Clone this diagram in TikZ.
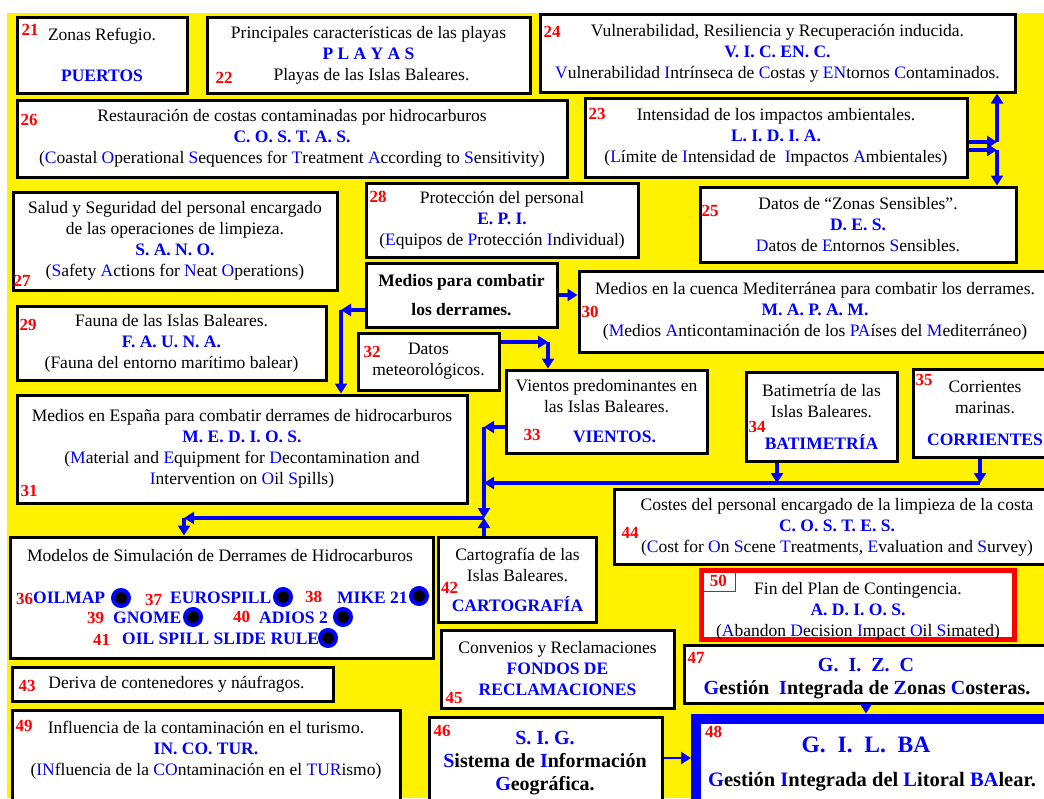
\documentclass[tikz,border=0pt]{standalone}
\usepackage{fontspec}
\setmainfont{Liberation Serif}
\usetikzlibrary{positioning,arrows.meta}
\newcommand\acr[1]{\textcolor{blue}{\bfseries #1}}
\newcommand\ini[1]{\textcolor{blue}{#1}}
\tikzset{
  box/.style={draw, line width=3pt, fill=white, align=center, inner sep=1pt,
    font=\fontsize{17.5}{21}\selectfont},
  txt/.style={align=center, inner sep=0pt, font=\fontsize{17.5}{21}\selectfont},
  num/.style={text=red, anchor=base west, inner sep=0pt, font=\bfseries\fontsize{17}{17}\selectfont},
  model/.style={anchor=base west, inner sep=0pt, text=blue, font=\bfseries\fontsize{17.5}{18}\selectfont},
  simdot/.style={circle, draw=blue, fill=black, line width=4pt, minimum size=16pt, inner sep=0pt},
  arr/.style={draw=blue, line width=3.5pt, -{Triangle[length=10pt,width=12pt]}},
}
\begin{document}
\begin{tikzpicture}[x=1pt, y=-1pt]
\useasboundingbox (0,0) rectangle (1044,798);
\fill[yellow] (7,13) rectangle (1044,798);

% fila superior
\node[box, minimum width=170pt, minimum height=76pt] (b21) at (102,55)
  {Zonas Refugio.\\[20pt]\acr{PUERTOS}};
\node[num] (n21) at ([shift={(6,20)}]b21.north west) {21};
\node[box, minimum width=323pt, minimum height=76pt] (b22) at (368.5,55)
  {Principales características de las playas\\\acr{P L A Y A S}\\\hspace*{6pt}Playas de las Islas Baleares.};
\node[num] (n22) at ([shift={(10,68)}]b22.north west) {22};
\node[box, minimum width=475pt, minimum height=78pt] (b24) at (777.5,53)
  {Vulnerabilidad, Resiliencia y Recuperación inducida.\\\acr{V. I. C. EN. C.}\\
   \ini{V}ulnerabilidad \ini{I}ntrínseca de \ini{C}ostas y \ini{EN}tornos \ini{C}ontaminados.};
\node[num] (n24) at ([shift={(5,25)}]b24.north west) {24};
\node[box, minimum width=550pt, minimum height=77pt] (b26) at (292,138.5)
  {Restauración de costas contaminadas por hidrocarburos\\\acr{C. O. S. T. A. S.}\\
   (\ini{C}oastal \ini{O}perational \ini{S}equences for \ini{T}reatment \ini{A}ccording to \ini{S}ensitivity)};
\node[num] (n26) at ([shift={(5,27)}]b26.north west) {26};
\node[box, minimum width=382pt, minimum height=79pt] (b23) at (776,137.5)
  {Intensidad de los impactos ambientales.\\\acr{L. I. D. I. A.}\\
   (\ini{L}ímite de \ini{I}ntensidad de \ \ini{I}mpactos \ini{A}mbientales)};
\node[num] (n23) at ([shift={(5,23)}]b23.north west) {23};
\node[box, minimum width=316pt, minimum height=75pt] (b25) at (858,224.5)
  {Datos de “Zonas Sensibles”.\\\acr{D. E. S.}\\\ini{D}atos de \ini{E}ntornos \ini{S}ensibles.};
\node[num] (n25) at ([shift={(3,31)}]b25.north west) {25};

% medios
\node[box, minimum width=324pt, minimum height=98pt] (b27) at (175,241)
  {Salud y Seguridad del personal encargado\\de las operaciones de limpieza.\\\acr{S. A. N. O.}\\
   (\ini{S}afety \ini{A}ctions for \ini{N}eat \ini{O}perations)};
\node[num] (n27) at ([shift={(2,96)}]b27.north west) {27};
\node[box, minimum width=272pt, minimum height=74pt] (b28) at (502,220)
  {Protección del personal\\\acr{E. P. I.}\\(\ini{E}quipos de \ini{P}rotección \ini{I}ndividual)};
\node[num] (n28) at ([shift={(5,21)}]b28.north west) {28};
\node[box, minimum width=191pt, minimum height=64pt, font=\bfseries\fontsize{17.5}{29}\selectfont]
  (bmed) at (461.5,295) {Medios para combatir\\los derrames.};
\node[box, minimum width=472pt, minimum height=81pt] (b30) at (815,311.5)
  {Medios en la cuenca Mediterránea para combatir los derrames.\\\acr{M. A. P. A. M.}\\
   (\ini{M}edios \ini{A}nticontaminación de los \ini{PA}íses del \ini{M}editerráneo)};
\node[num] (n30) at ([shift={(4,48)}]b30.north west) {30};
\node[box, minimum width=309pt, minimum height=74pt] (b29) at (171.5,343)
  {Fauna de las Islas Baleares.\\\acr{F. A. U. N. A.}\\(Fauna del entorno marítimo balear)};
\node[num] (n29) at ([shift={(4,26)}]b29.north west) {29};
\node[box, minimum width=141pt, minimum height=57pt] (b32) at (428.5,361.5)
  {Datos\\meteorológicos.};
\node[num] (n32) at ([shift={(7,26)}]b32.north west) {32};
\node[box, minimum width=201pt, minimum height=83pt] (b33) at (606.5,411.5)
  {Vientos predominantes en\\las Islas Baleares.\\[9pt]\hspace*{16pt}\acr{VIENTOS.}};
\node[num] (n33) at ([shift={(19,72)}]b33.north west) {33};
\node[box, minimum width=151pt, minimum height=89pt] (b34) at (821.5,416.5)
  {Batimetría de las\\Islas Baleares.\\[11pt]\acr{BATIMETRÍA}};
\node[num] (n34) at ([shift={(4,62)}]b34.north west) {34};
\node[box, minimum width=144pt, minimum height=88pt] (b35) at (985,413)
  {Corrientes\\marinas.\\[11pt]\acr{CORRIENTES}};
\node[num] (n35) at ([shift={(4,18)}]b35.north west) {35};
\node[box, minimum width=450pt, minimum height=108pt] (b31) at (242,449)
  {Medios en España para combatir derrames de hidrocarburos\\\acr{M. E. D. I. O. S.}\\
   (\ini{M}aterial and \ini{E}quipment for \ini{D}econtamination and\\
   \ini{I}ntervention on \ini{O}il \ini{S}pills)};
\node[num] (n31) at ([shift={(5,103)}]b31.north west) {31};
\node[box, minimum width=446pt, minimum height=75pt] (b44) at (837,527)
  {Costes del personal encargado de la limpieza de la costa\\\acr{C. O. S. T. E. S.}\\
   (\ini{C}ost for \ini{O}n \ini{S}cene \ini{T}reatments, \ini{E}valuation and \ini{S}urvey)};
\node[num] (n44) at ([shift={(9,50)}]b44.north west) {44};

% modelos de simulacion
\node[box, minimum width=423pt, minimum height=121pt] (bmod) at (221.5,597.5) {};
\node[txt] (tmod) at (220,555) {Modelos de Simulación de Derrames de Hidrocarburos};
\node[num] (n36) at (16,604) {36};
\node[model] (m36) at (33,603) {OILMAP};
\node[simdot] (d36) at (121,598) {};
\node[num] (n37) at (145,605) {37};
\node[model] (m37) at (170,603) {EUROSPILL};
\node[simdot] (d37) at (283,597) {};
\node[num] (n38) at (305,602) {38};
\node[model] (m38) at (337,603) {MIKE 21};
\node[simdot] (d38) at (419,596) {};
\node[num] (n39) at (87,623) {39};
\node[model] (m39) at (113,623) {GNOME};
\node[simdot] (d39) at (193,617) {};
\node[num] (n40) at (233,622) {40};
\node[model] (m40) at (259,623) {ADIOS 2};
\node[simdot] (d40) at (343,617) {};
\node[num] (n41) at (93,645) {41};
\node[model] (m41) at (122,644) {OIL SPILL SLIDE RULE};
\node[simdot] (d41) at (328,638) {};

\node[box, minimum width=158pt, minimum height=85pt] (b42) at (517.5,579.5)
  {Cartografía de las\\Islas Baleares.\\[9pt]\acr{CARTOGRAFÍA}};
\node[num] (n42) at ([shift={(4,58)}]b42.north west) {42};
\node[box, draw=red, line width=5pt, minimum width=313pt, minimum height=69pt] (b50) at (858,605) {};
\node[txt] (t50) at (858,611)
  {Fin del Plan de Contingencia.\\\acr{A. D. I. O. S.}\\
   (\ini{A}bandon \ini{D}ecision \ini{I}mpact \ini{O}il \ini{S}imated)};
\node[num, draw=red, line width=0.8pt, anchor=north west, minimum width=34pt, minimum height=21pt]
  (n50) at ([shift={(2,2)}]b50.north west) {50};

% fila inferior
\node[box, minimum width=233pt, minimum height=78pt] (b45) at (557.5,669)
  {Convenios y Reclamaciones\\\acr{FONDOS DE}\\\acr{RECLAMACIONES}};
\node[num] (n45) at ([shift={(6,75)}]b45.north west) {45};
\node[box, minimum width=370pt, minimum height=58pt] (b47) at (869,674) {};
\node[txt, font=\bfseries\fontsize{20}{20}\selectfont, text=blue] (t47a) at (866,665) {G. \ I. \ Z. \ C};
\node[txt, font=\bfseries\fontsize{20}{20}\selectfont] (t47b) at (867,690)
  {\ini{G}estión \ \ini{I}ntegrada de \ini{Z}onas \ini{C}osteras.};
\node[num] (n47) at ([shift={(5,20)}]b47.north west) {47};
\node[box, minimum width=321pt, minimum height=34pt] (b43) at (172.5,684)
  {\hspace*{8pt}Deriva de contenedores y náufragos.};
\node[num] (n43) at ([shift={(8,26)}]b43.north west) {43};
\node[box, minimum width=388pt, minimum height=100pt] (b49) at (206,760) {};
\node[txt] (t49) at (206,750)
  {Influencia de la contaminación en el turismo.\\\acr{IN. CO. TUR.}\\
   (\ini{IN}fluencia de la \ini{CO}ntaminación en el \ini{TUR}ismo)};
\node[num] (n49) at ([shift={(5,23)}]b49.north west) {49};
\node[box, minimum width=233pt, minimum height=95pt] (b46) at (545.5,764.5) {};
\node[txt, font=\bfseries\fontsize{20}{23}\selectfont] (t46) at (545,763)
  {\acr{S. I. G.}\\\ini{S}istema de \ini{I}nformación\\\ini{G}eográfica.};
\node[num] (n46) at ([shift={(6,21)}]b46.north west) {46};
\node[box, draw=blue, line width=10pt, minimum width=360pt, minimum height=95pt] (b48) at (876,766) {};
\node[txt, font=\bfseries\fontsize{23.5}{23.5}\selectfont, text=blue] (t48a) at (866,745) {G. \ I. \ L. \ BA};
\node[txt, font=\bfseries\fontsize{20.5}{21}\selectfont] (t48b) at (872,782)
  {\ini{G}estión \ini{I}ntegrada del \ini{L}itoral \ini{BA}lear.};
\node[num] (n48) at ([shift={(14,24)}]b48.north west) {48};

% conectores
\coordinate (j23) at (997,142);
\coordinate (k23) at (997,150);
\draw[arr] (b23.east |- j23) -- (j23);
\draw[arr] (j23) -- (j23 |- b24.south);
\draw[arr] (b23.east |- k23) -- (k23);
\draw[arr] (k23) -- (k23 |- b25.north);

\coordinate (jmed) at (341,310);
\draw[arr] (bmed.west |- jmed) -- (jmed);
\draw[arr] (jmed) -- (jmed |- b31.north);
\draw[arr] (bmed.east) -- (bmed.east -| b30.west);

\coordinate (j32) at (548,342);
\draw[arr] (b32.east |- j32) -- (j32);
\draw[arr] (j32) -- (j32 |- b33.north);

\coordinate (j33) at (484,427);
\coordinate (jmid) at (484,518);
\draw[arr] (b33.west |- j33) -- (j33);
\draw[arr] (j33) -- (jmid);

\coordinate (j34) at (777,483);
\coordinate (j35) at (980,483);
\draw[arr] (j34 |- b34.south) -- (j34);
\draw[arr] (j35 |- b35.south) -- (j35);
\draw[arr] (j35) -- (j34) -- (j33 |- j34);

\coordinate (jmod) at (184,518);
\draw[arr] (jmid) -- (jmod);
\draw[arr] (jmod) -- (jmod |- bmod.north);
\draw[arr] (jmid |- b42.north) -- (jmid);

\draw[arr, line width=2.5pt] (t48a |- b47.south) -- (t48a |- b48.north);
\draw[arr, line width=2.5pt] (b46.east |- 0,758) -- (b48.west |- 0,758);
\end{tikzpicture}
\end{document}
